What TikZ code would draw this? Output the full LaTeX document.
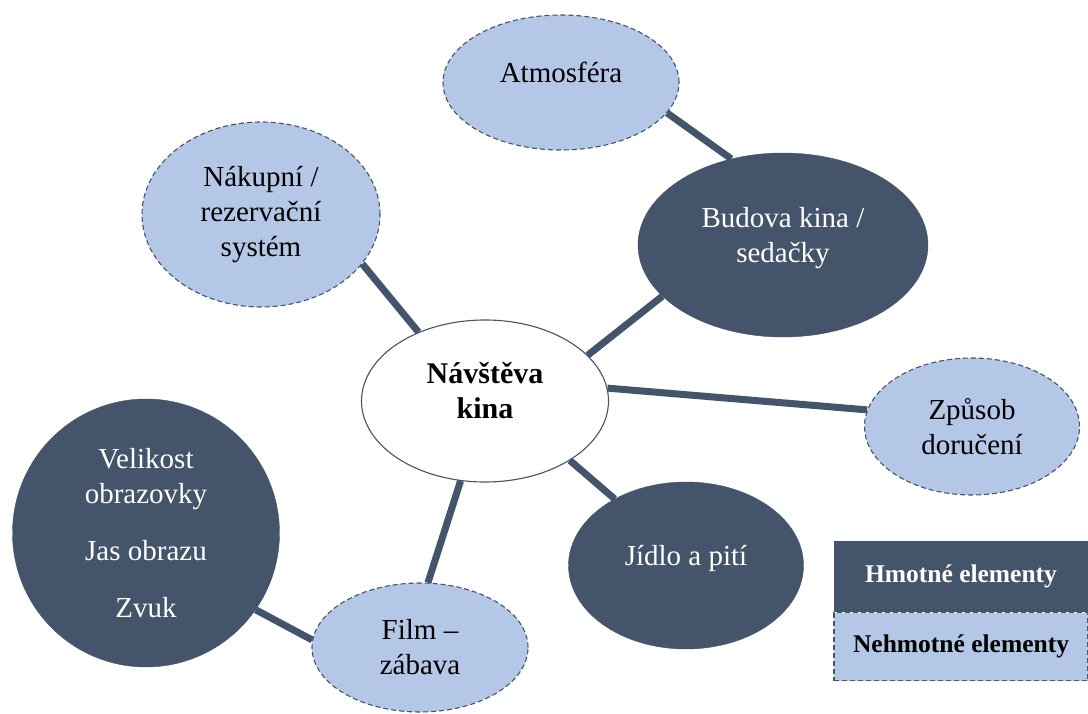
\documentclass[tikz,border=0pt]{standalone}
\usepackage{fontspec}
\setmainfont{Liberation Serif}
\usetikzlibrary{positioning,shapes.geometric}
\definecolor{slate}{HTML}{44546A}
\definecolor{mist}{HTML}{B4C7E7}
\tikzset{
  hard/.style={ellipse,fill=slate,draw=slate,text=white,align=center,inner sep=0pt,font=\fontsize{29}{35}\selectfont},
  soft/.style={ellipse,fill=mist,draw=slate,line width=1.1pt,dash pattern=on 5pt off 3pt,text=black,align=center,inner sep=0pt,font=\fontsize{29}{35}\selectfont},
  hub/.style={ellipse,fill=white,draw=slate,line width=1.1pt,align=center,inner sep=0pt,font=\fontsize{30}{35}\selectfont\bfseries},
  lifted/.style={text height=#1,text depth=20pt},
  keybox/.style={rectangle,minimum width=254pt,inner sep=0pt,font=\fontsize{25.5}{30}\selectfont\bfseries},
  link/.style={draw=slate,line width=7pt}
}

\begin{document}
\begin{tikzpicture}[x=1pt,y=1pt]
    \useasboundingbox[fill=white] (0,0) rectangle (1088,713);

    % centre
    \node[hub,lifted=55pt,minimum width=247pt,minimum height=162pt] (visit) at (485,312) {Návštěva\\kina};

    % tangible elements
    \node[hard,lifted=55pt,minimum width=290pt,minimum height=184pt] (building) at (783,468) {Budova kina /\\sedačky};
    \node[hard,lifted=20pt,minimum width=235pt,minimum height=167pt] (food) at (686,147.5) {Jídlo a pití};
    \node[hard,minimum width=267pt,minimum height=268pt] (screen) at (146,180) {Velikost\\obrazovky\\[22pt]Jas obrazu\\[22pt]Zvuk};

    % intangible elements
    \node[soft,lifted=20pt,minimum width=236pt,minimum height=135pt] (atmo) at (561,630.5) {Atmosféra};
    \node[soft,minimum width=238pt,minimum height=185pt] (shop) at (261,498.5) {Nákupní /\\rezervační\\systém};
    \node[soft,minimum width=215pt,minimum height=137pt] (delivery) at (972,286.5) {Způsob\\doručení};
    \node[soft,minimum width=216pt,minimum height=129pt] (film) at (420,65.5) {Film –\\zábava};

    % connectors
    \draw[link] (atmo.344) -- (building.121);
    \draw[link] (visit.134) -- (shop.334);
    \draw[link] (visit.24) -- (building.203);
    \draw[link] (visit.6) -- (delivery.171);
    \draw[link] (visit.325) -- (food.137);
    \draw[link] (visit.253) -- (film.83);
    \draw[link] (screen.325) -- (film.176);

    % legend
    \node[keybox,fill=slate,text=white,minimum height=71pt] (keyhard) at (961,136.5) {Hmotné elementy};
    \node[keybox,fill=mist,draw=slate,line width=1.1pt,dash pattern=on 5pt off 3pt,minimum height=68pt,below=0pt of keyhard] (keysoft) {Nehmotné elementy};
\end{tikzpicture}
\end{document}
